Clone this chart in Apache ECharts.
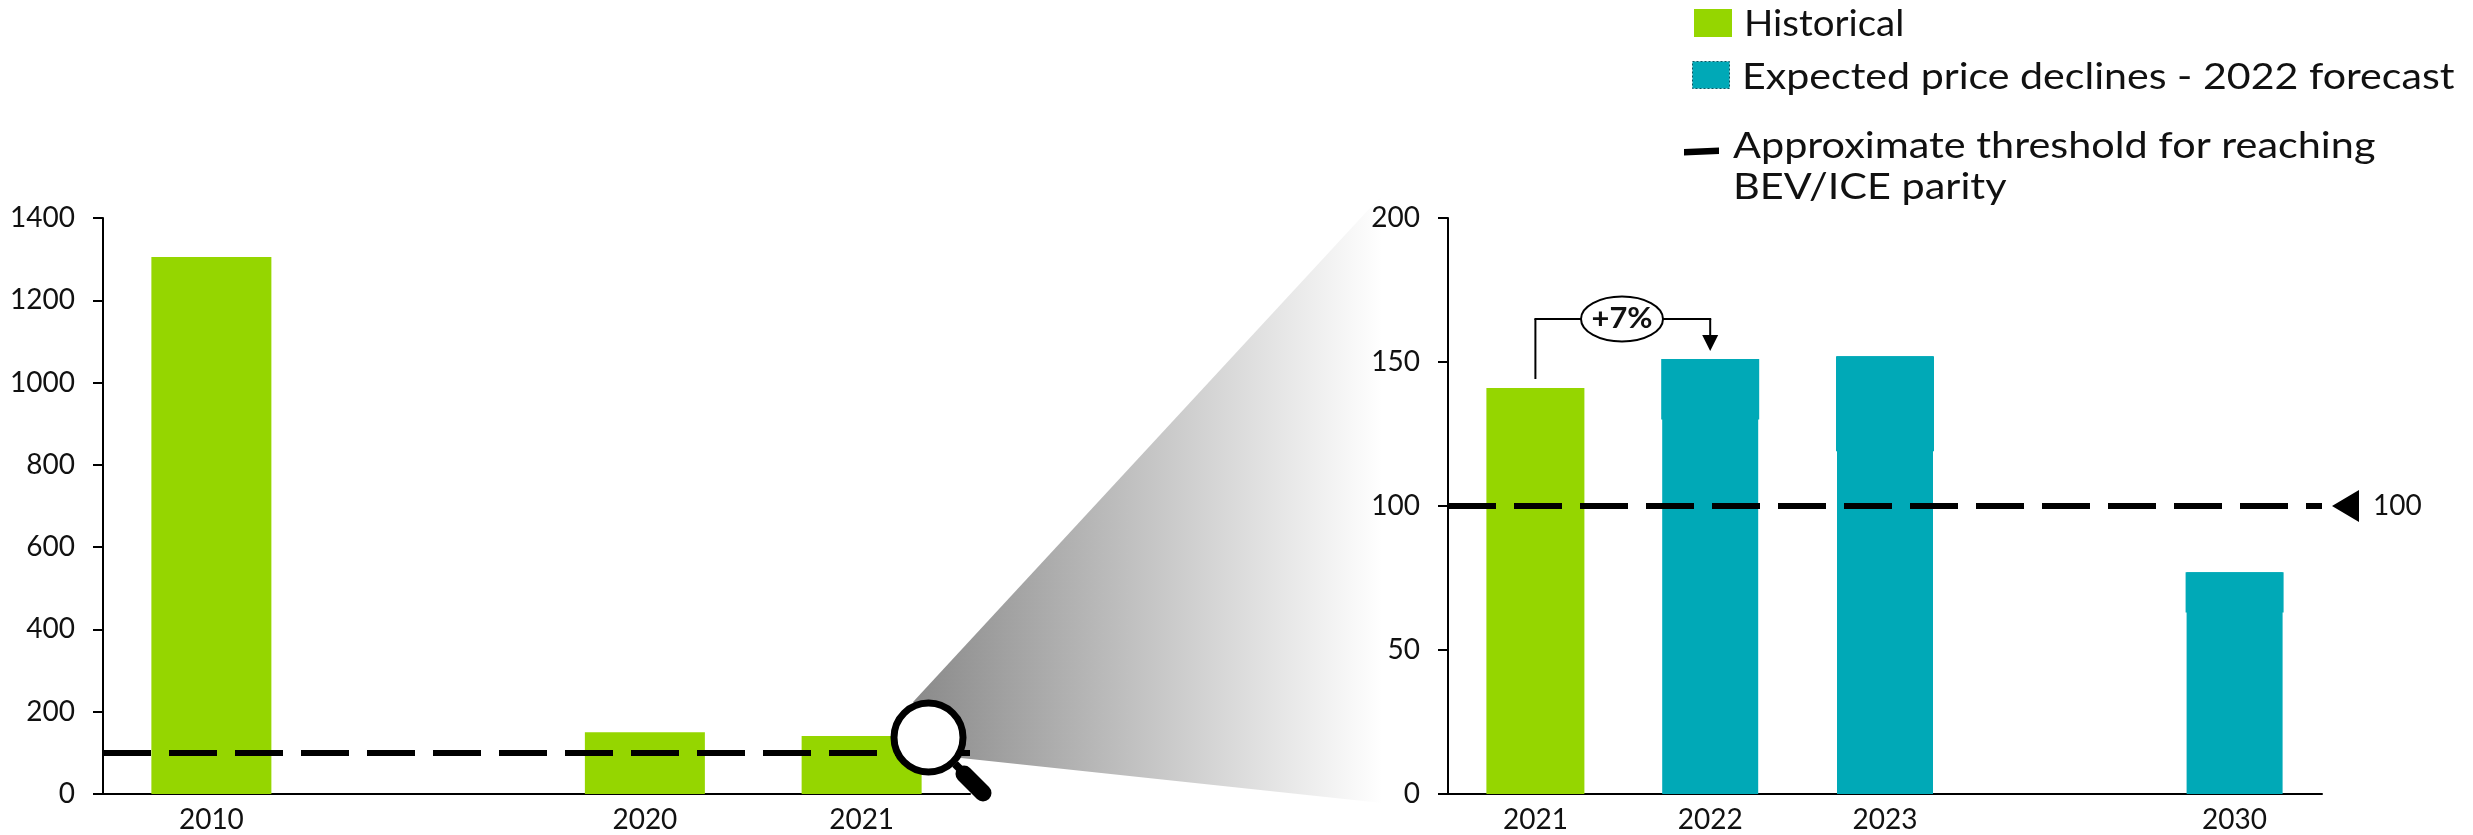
<!DOCTYPE html>
<html><head><meta charset="utf-8">
<style>html,body{margin:0;padding:0;background:#fff}#c{width:2473px;height:835px}</style>
<script src="https://cdn.jsdelivr.net/npm/echarts@6/dist/echarts.min.js"></script>
</head><body><div id="c"></div>
<script>
const leftCategories = ['2010', '', '2020', '2021'];
const leftHistorical = [1305, null, 150, 141];
const rightCategories = ['2021', '2022', '2023', '', '2030'];
const rightHistorical = [141, null, null, null, null];
const forecastTotal = [null, 151, 152, null, 77];
const forecastStep = [null, 130, 119, null, 63];
const threshold = 100;
const legendLabels = ['Historical', 'Expected price declines - 2022 forecast', 'Approximate threshold for reaching\nBEV/ICE parity'];
const changeLabel = '+7%';

const GREEN = '#95D600', TEAL = '#00A9B7', INK = '#111';
const FONT = 'Lato';
const forecastUpper = forecastTotal.map((v, i) => v == null ? null : v - forecastStep[i]);

const chart = echarts.init(document.getElementById('c'), null, {renderer: 'canvas'});
const axisLine = {show: true, lineStyle: {color: '#000', width: 2}};
const lbl = {color: INK, fontFamily: FONT, fontSize: 28, fontWeight: 400};
const plain = v => String(v);
const thresholdLine = {
  silent: true, symbol: 'none', animation: false, label: {show: false},
  lineStyle: {color: '#000', width: 6, type: [48, 18], cap: 'butt', opacity: 1},
  emphasis: {disabled: true},
  data: [{yAxis: threshold}], z: 5
};
chart.setOption({
  animation: false,
  backgroundColor: '#fff',
  grid: [
    {left: 103, top: 218, width: 867, height: 576},
    {left: 1448, top: 218, width: 874, height: 576}
  ],
  xAxis: [
    {type: 'category', gridIndex: 0, data: leftCategories, axisLine, axisTick: {show: false}, axisLabel: {...lbl, margin: 12, interval: 0}},
    {type: 'category', gridIndex: 1, data: rightCategories, axisLine, axisTick: {show: false}, axisLabel: {...lbl, margin: 12, interval: 0}},
    {type: 'category', gridIndex: 1, data: rightCategories, show: false}
  ],
  yAxis: [
    {type: 'value', gridIndex: 0, min: 0, max: 1400, interval: 200, splitLine: {show: false}, axisLine,
     axisTick: {show: true, length: 10, lineStyle: {color: '#000', width: 2}}, axisLabel: {...lbl, margin: 28, formatter: plain}},
    {type: 'value', gridIndex: 1, min: 0, max: 200, interval: 50, splitLine: {show: false}, axisLine,
     axisTick: {show: true, length: 10, lineStyle: {color: '#000', width: 2}}, axisLabel: {...lbl, margin: 28, formatter: plain}}
  ],
  series: [
    {name: 'Historical', type: 'bar', xAxisIndex: 0, yAxisIndex: 0, barWidth: 120, data: leftHistorical,
     itemStyle: {color: GREEN}, markLine: thresholdLine, silent: true},
    {name: 'Historical (zoom)', type: 'bar', xAxisIndex: 2, yAxisIndex: 1, stack: 'r', barWidth: 98, data: rightHistorical,
     itemStyle: {color: GREEN}, silent: true},
    {name: 'step base', type: 'bar', xAxisIndex: 2, yAxisIndex: 1, stack: 'r', barWidth: 98, data: forecastStep,
     itemStyle: {color: 'transparent'}, silent: true},
    {name: 'Expected price declines (upper edge)', type: 'bar', xAxisIndex: 2, yAxisIndex: 1, stack: 'r', barWidth: 98, data: forecastUpper,
     itemStyle: {color: TEAL}, silent: true},
    {name: 'Expected price declines', type: 'bar', xAxisIndex: 1, yAxisIndex: 1, barWidth: 96, data: forecastTotal,
     itemStyle: {color: TEAL}, markLine: thresholdLine, silent: true}
  ]
});

const yR = chart.convertToPixel({yAxisIndex: 1}, threshold);
const x2021 = chart.convertToPixel({xAxisIndex: 1}, '2021');
const x2022 = chart.convertToPixel({xAxisIndex: 1}, '2022');
const txt = (x, y, text, o = {}, sx = 1) => ({type: 'text', x, y, z: 50, scaleX: sx, style: Object.assign({
  text, fill: INK, fontFamily: FONT, fontSize: 37, fontWeight: 400, textAlign: 'left', textVerticalAlign: 'middle', lineHeight: 41}, o)});
const ln = (x1, y1, x2, y2, w = 2, cap = 'butt') => ({type: 'line', z: 40, shape: {x1, y1, x2, y2}, style: {stroke: '#000', lineWidth: w, lineCap: cap}});

chart.setOption({graphic: {elements: [
  {type: 'polygon', z: 0, shape: {points: [[913, 702], [1382, 195], [1382, 803], [961, 758]]},
   style: {fill: new echarts.graphic.LinearGradient(0, 0, 1, 0, [{offset: 0, color: '#8a8a8a'}, {offset: 1, color: '#ffffff'}])}},
  // magnifier
  ln(955, 764, 968, 777, 8),
  ln(964, 774, 983, 793, 17, 'round'),
  {type: 'circle', z: 45, shape: {cx: 928.5, cy: 737.5, r: 34.5}, style: {fill: '#fff', stroke: '#000', lineWidth: 7}},
  // threshold marker
  {type: 'polygon', z: 40, shape: {points: [[2332, yR], [2359, yR - 16], [2359, yR + 16]]}, style: {fill: '#000'}},
  txt(2373, yR, String(threshold), {fontSize: 28}),
  // change annotation
  ln(x2021, 379, x2021, 319), ln(x2021 - 1, 319, 1582, 319),
  ln(1662, 319, x2022 + 1, 319), ln(x2022, 319, x2022, 336),
  {type: 'polygon', z: 40, shape: {points: [[x2022 - 8, 335], [x2022 + 8, 335], [x2022, 351]]}, style: {fill: '#000'}},
  {type: 'ellipse', z: 41, shape: {cx: 1622, cy: 319, rx: 41, ry: 22.5}, style: {fill: '#fff', stroke: '#000', lineWidth: 2}},
  {type: 'text', x: 1622, y: 319, z: 50, scaleX: 1.1, style: {text: changeLabel, fill: '#111', fontFamily: FONT, fontSize: 28, fontWeight: 700, textAlign: 'center', textVerticalAlign: 'middle'}},
  // legend
  {type: 'rect', z: 40, shape: {x: 1694, y: 9, width: 38, height: 28}, style: {fill: GREEN}},
  txt(1744, 24, legendLabels[0], {}, 1.04),
  {type: 'rect', z: 40, shape: {x: 1692.5, y: 61.5, width: 37, height: 27}, style: {fill: TEAL, stroke: '#0b5560', lineWidth: 1, lineDash: [2, 2]}},
  txt(1742, 77, legendLabels[1], {}, 1.112),
  {type: 'polygon', z: 40, shape: {points: [[1684, 149], [1719, 147.5], [1719, 154], [1684, 155.5]]}, style: {fill: '#000'}},
  txt(1733, 167, legendLabels[2], {}, 1.119)
]}});
</script></body></html>
